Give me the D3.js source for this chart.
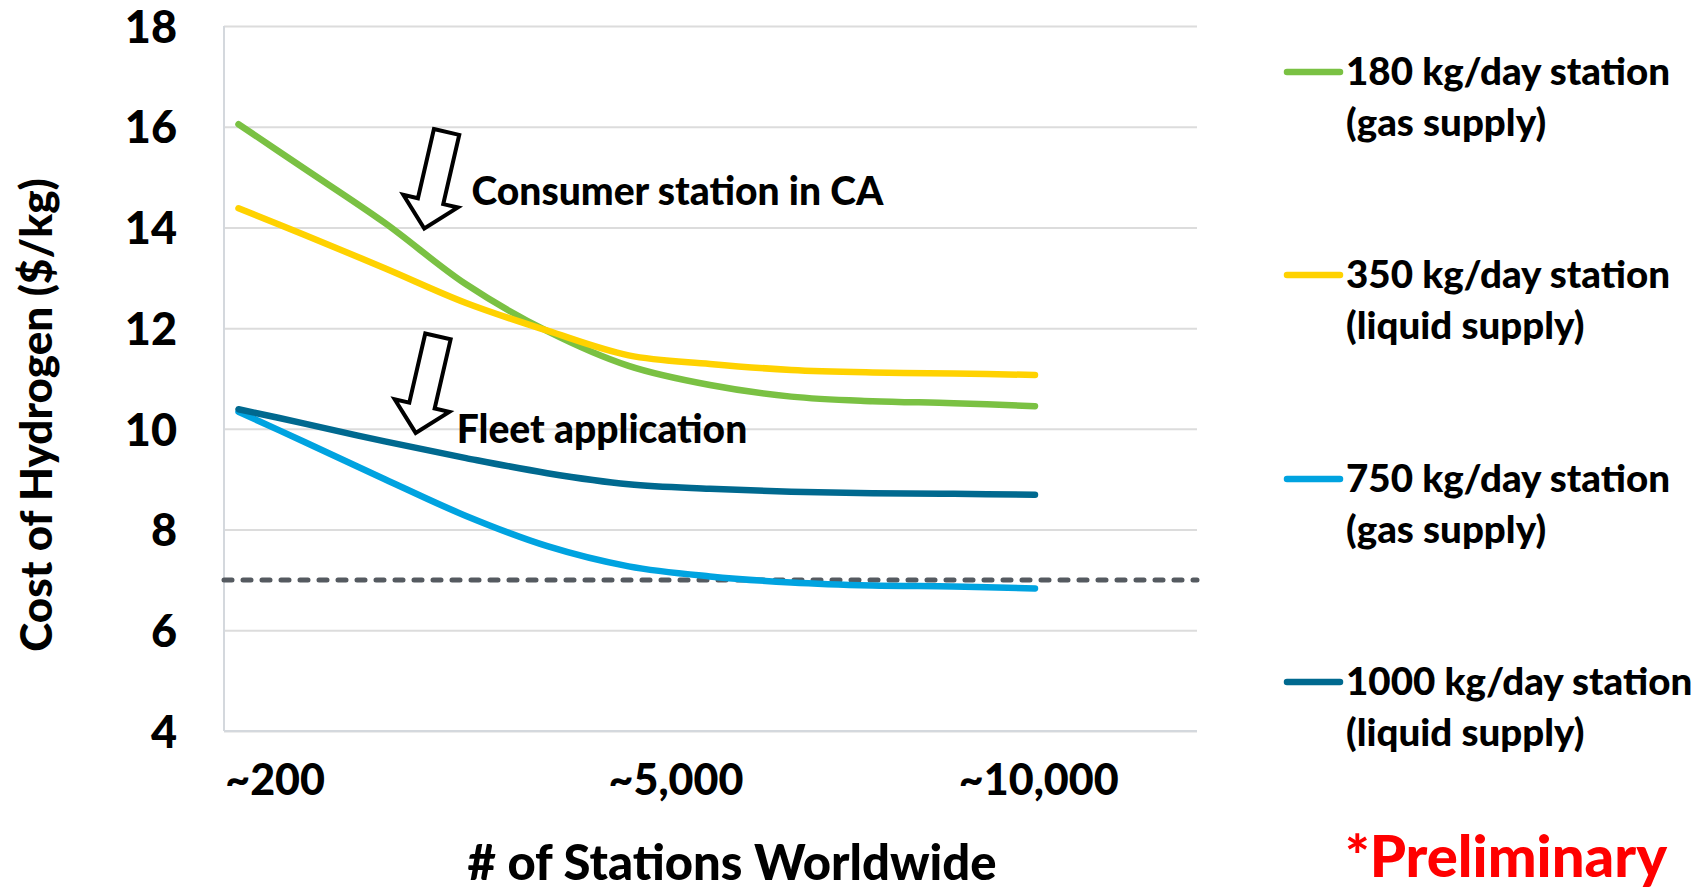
<!DOCTYPE html>
<html>
<head>
<meta charset="utf-8">
<script src="https://cdn.jsdelivr.net/npm/d3@7"></script>
<style>
  html, body { margin: 0; padding: 0; background: #ffffff; }
  svg { display: block; }
  text { font-family: Lato, "Open Sans", sans-serif; font-weight: 900; fill: #000; }
</style>
</head>
<body>
<svg id="chart" width="1706" height="890"></svg>
<script>
// ---------- data ----------
const stations = [200, 1000, 2000, 3000, 4000, 5000, 6000, 7000, 8000, 9000, 10000];
const cost180Gas    = [16.05, 15.18, 14.09, 12.87, 11.94, 11.25, 10.87, 10.64, 10.55, 10.51, 10.45];
const cost350Liquid = [14.38, 13.86, 13.19, 12.50, 11.95, 11.46, 11.29, 11.17, 11.12, 11.10, 11.07];
const cost750Gas    = [10.34, 9.75, 9.00, 8.27, 7.67, 7.27, 7.07, 6.95, 6.89, 6.87, 6.83];
const cost1000Liquid= [10.39, 10.11, 9.75, 9.42, 9.12, 8.90, 8.81, 8.75, 8.72, 8.71, 8.69];
const seriesNames = [
  ["180 kg/day station", "(gas supply)"],
  ["350 kg/day station", "(liquid supply)"],
  ["750 kg/day station", "(gas supply)"],
  ["1000 kg/day station", "(liquid supply)"]
];
const targetCost = 7;
const yTicks = [4, 6, 8, 10, 12, 14, 16, 18];
const xTickLabels = ["~200", "~5,000", "~10,000"];
const xTickAnchors = [650, 5583, 10046];
const annotationTexts = ["Consumer station in CA", "Fleet application"];
const annotationTextAt = [[3067, 14.45], [2885, 9.71]];
const annotationArrowTips = [[2486, 13.98], [2380, 9.92]];

// ---------- styles ----------
const colors = ["#7AC143", "#FFD200", "#00A3E0", "#00698F"];
const seriesValues = [cost180Gas, cost350Liquid, cost750Gas, cost1000Liquid];

const svg = d3.select("#chart");
const plot = { left: 224, right: 1197, top: 26, bottom: 731 };

const y = d3.scaleLinear().domain([4, 18]).range([plot.bottom, plot.top]);
const x = d3.scaleLinear().domain([200, 10000]).range([238.5, 1035]);

// gridlines
svg.append("g")
  .attr("transform", `translate(${plot.left},0)`)
  .call(d3.axisLeft(y).tickValues(yTicks).tickSize(-(plot.right - plot.left)).tickFormat(""))
  .call(g => g.select(".domain").remove())
  .call(g => g.selectAll("line").attr("stroke", "#DCDCDC").attr("stroke-width", 2));

// left border and bottom line
svg.append("line").attr("x1", plot.left).attr("x2", plot.left)
  .attr("y1", plot.top).attr("y2", plot.bottom)
  .attr("stroke", "#D4D8DD").attr("stroke-width", 2);
svg.append("line").attr("x1", plot.left).attr("x2", plot.right)
  .attr("y1", plot.bottom).attr("y2", plot.bottom)
  .attr("stroke", "#D4D8DD").attr("stroke-width", 2);

// y tick labels
svg.append("g")
  .attr("transform", `translate(${plot.left},0)`)
  .call(d3.axisLeft(y).tickValues(yTicks).tickSize(0).tickPadding(47).tickFormat(d3.format("d")))
  .call(g => g.select(".domain").remove())
  .call(g => g.selectAll("text")
    .attr("font-size", 45).attr("font-family", "Lato, sans-serif").attr("font-weight", 900)
    .attr("fill", "#000").attr("dy", "0.36em"));

// target dashed line
svg.append("line")
  .attr("x1", plot.left).attr("x2", plot.right)
  .attr("y1", y(targetCost)).attr("y2", y(targetCost))
  .attr("stroke", "#555A60").attr("stroke-width", 5)
  .attr("stroke-dasharray", "8 11").attr("stroke-linecap", "round");

// series lines
const line = d3.line()
  .x((d, i) => x(stations[i]))
  .y(d => y(d))
  .curve(d3.curveCatmullRom.alpha(0.5));

[0, 1, 2, 3].forEach(k => {
  svg.append("path")
    .attr("d", line(seriesValues[k]))
    .attr("fill", "none")
    .attr("stroke", colors[k])
    .attr("stroke-width", 6.5)
    .attr("stroke-linecap", "round")
    .attr("stroke-linejoin", "round");
});

// x tick labels
svg.append("g").selectAll("text")
  .data(xTickLabels)
  .join("text")
  .attr("x", (d, i) => x(xTickAnchors[i]))
  .attr("y", plot.bottom + 64)
  .attr("text-anchor", "middle")
  .attr("font-size", 43)
  .text(d => d);

// axis titles
svg.append("text")
  .attr("transform", "translate(36,415) rotate(-90)")
  .attr("text-anchor", "middle")
  .attr("dy", "0.36em")
  .attr("font-size", 44)
  .text("Cost of Hydrogen ($/kg)");

svg.append("text")
  .attr("x", 732).attr("y", 880)
  .attr("text-anchor", "middle")
  .attr("font-size", 49)
  .text("# of Stations Worldwide");

// annotations: hollow block arrows
function arrowPath(len, shaftW, headW, headL) {
  const s = shaftW / 2, h = headW / 2;
  return `M${-s},${-len} L${s},${-len} L${s},${-headL} L${h},${-headL} L0,0 L${-h},${-headL} L${-s},${-headL} Z`;
}
annotationArrowTips.forEach(tp => {
  svg.append("path")
    .attr("d", arrowPath(99, 26, 56, 28))
    .attr("transform", `translate(${x(tp[0])},${y(tp[1])}) rotate(13)`)
    .attr("fill", "#fff")
    .attr("stroke", "#000")
    .attr("stroke-width", 4)
    .attr("stroke-linejoin", "miter");
});
annotationTexts.forEach((t, i) => {
  svg.append("text")
    .attr("x", x(annotationTextAt[i][0]))
    .attr("y", y(annotationTextAt[i][1]))
    .attr("font-size", 39)
    .text(t);
});

// legend
const legendRowY = [72, 275, 479, 682];
const legend = svg.append("g");
seriesNames.forEach((nm, i) => {
  const g = legend.append("g").attr("transform", `translate(0,${legendRowY[i]})`);
  g.append("line").attr("x1", 1287).attr("x2", 1340).attr("y1", 0).attr("y2", 0)
    .attr("stroke", colors[i]).attr("stroke-width", 6.5).attr("stroke-linecap", "round");
  g.append("text").attr("x", 1346).attr("y", 13).attr("font-size", 38.5).text(nm[0]);
  g.append("text").attr("x", 1346).attr("y", 64).attr("font-size", 38.5).text(nm[1]);
});

// preliminary note
svg.append("text")
  .attr("x", 1345).attr("y", 877)
  .attr("font-size", 58)
  .style("fill", "#FF0000")
  .text("*Preliminary");
</script>
</body>
</html>
